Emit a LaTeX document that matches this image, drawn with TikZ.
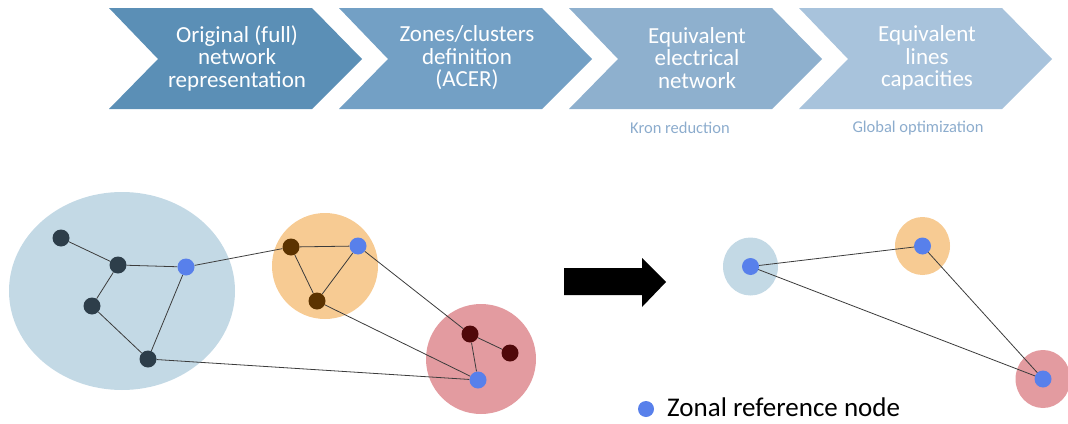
\documentclass[tikz,border=0pt]{standalone}
\usepackage{fontspec}
\setmainfont{Carlito}
\usetikzlibrary{backgrounds}
\definecolor{chA}{RGB}{91,143,182}
\definecolor{chB}{RGB}{115,160,197}
\definecolor{chC}{RGB}{142,176,206}
\definecolor{chD}{RGB}{168,195,220}
\definecolor{lbl}{RGB}{140,172,205}
\definecolor{zblue}{RGB}{195,217,229}
\definecolor{zorange}{RGB}{247,203,147}
\definecolor{zred}{RGB}{227,155,160}
\definecolor{refn}{RGB}{88,128,235}
\definecolor{darkn}{RGB}{45,62,74}
\definecolor{brown}{RGB}{92,51,0}
\definecolor{maroon}{RGB}{80,8,10}
\definecolor{edgec}{RGB}{60,60,60}
\tikzset{
  chevtext/.style={align=center,text=white,font=\fontsize{23}{22.5}\selectfont},
  steplabel/.style={text=lbl,font=\fontsize{16.5}{18}\selectfont},
  gnode/.style={circle,inner sep=0pt,minimum size=17pt},
  refnode/.style={gnode,fill=refn},
  dnode/.style={gnode,fill=darkn},
  bnode/.style={gnode,fill=brown},
  mnode/.style={gnode,fill=maroon},
  link/.style={draw=edgec,line width=0.8pt},
}
\begin{document}
\begin{tikzpicture}[x=1pt,y=-1pt]
\useasboundingbox (0,0) rectangle (1068,423);
% chevrons
\foreach \x/\c in {109/chA,339/chB,569/chC,799/chD}{
  \fill[\c] (\x,8) -- ++(203,0) -- ++(50,51) -- ++(-50,50) -- ++(-203,0) -- ++(49,-50) -- cycle;
}
\node[chevtext] (s1) at (237,58) {Original (full)\\network\\representation};
\node[chevtext] (s2) at (467,58) {Zones/clusters\\definition\\(ACER)};
\node[chevtext] (s3) at (697,58) {Equivalent\\electrical\\network};
\node[chevtext] (s4) at (927,58) {Equivalent\\lines\\capacities};
\node[steplabel] (k) at (680,128) {Kron reduction};
\node[steplabel] (g) at (918,128) {Global optimization};
% full network nodes
\node[dnode] (A) at (61,238) {};
\node[dnode] (B) at (118,265) {};
\node[dnode] (C) at (92,306) {};
\node[dnode] (D) at (148,359) {};
\node[refnode] (E) at (186,267) {};
\node[bnode] (F) at (291,247) {};
\node[refnode] (G) at (358,246) {};
\node[bnode] (H) at (317,301) {};
\node[mnode] (I) at (470,334) {};
\node[mnode] (J) at (510,353) {};
\node[refnode] (K) at (478,380) {};
% reduced network nodes
\node[refnode] (R1) at (750.5,266.5) {};
\node[refnode] (R2) at (922.5,246) {};
\node[refnode] (R3) at (1043,379) {};
\begin{scope}[on background layer]
% zones
\fill[zblue] (122,291) ellipse [x radius=113, y radius=99];
\fill[zorange] (325,266) ellipse [x radius=53, y radius=53];
\fill[zred] (481,359) ellipse [x radius=55, y radius=55];
\fill[zblue] (750.5,266.5) ellipse [x radius=27.5, y radius=29];
\fill[zorange] (922.5,246) ellipse [x radius=27.5, y radius=29];
\fill[zred] (1043,379) ellipse [x radius=27.5, y radius=29];
% links
\draw[link] (A) -- (B);
\draw[link] (B) -- (E);
\draw[link] (B) -- (C);
\draw[link] (C) -- (D);
\draw[link] (D) -- (E);
\draw[link] (E) -- (F);
\draw[link] (F) -- (G);
\draw[link] (F) -- (H);
\draw[link] (G) -- (H);
\draw[link] (G) -- (I);
\draw[link] (H) -- (K);
\draw[link] (D) -- (K);
\draw[link] (I) -- (J);
\draw[link] (I) -- (K);
\draw[link] (R1.center) -- (R2.center);
\draw[link] (R1.center) -- (R3.center);
\draw[link] (R2.center) -- (R3.center);
\end{scope}
% big arrow
\fill[black] (564,268) -- (642,268) -- (642,258) -- (666,282) -- (642,307) -- (642,295) -- (564,295) -- cycle;
% legend
\node[refnode,minimum size=16pt] (L) at (646,409) {};
\node[anchor=base west,font=\fontsize{27}{28}\selectfont,inner sep=0pt] (Lt) at (667,416) {Zonal reference node};
\end{tikzpicture}
\end{document}
